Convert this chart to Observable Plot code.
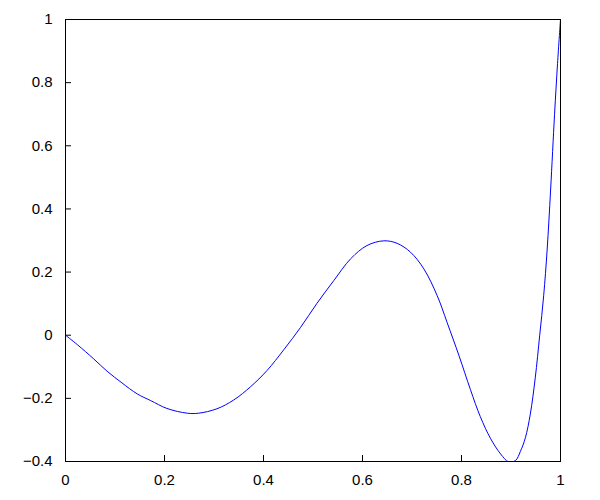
<!DOCTYPE html>
<html>
<head>
<meta charset="utf-8">
<script src="https://cdn.jsdelivr.net/npm/d3@7"></script>
<script src="https://cdn.jsdelivr.net/npm/@observablehq/plot@0.6"></script>
<style>
  html, body { margin: 0; padding: 0; background: #fff; }
  #chart svg { display: block; }
</style>
</head>
<body>
<div id="chart"></div>
<script>
const xs = [0, 0.024, 0.057, 0.084, 0.114, 0.145, 0.172, 0.205, 0.246, 0.269, 0.306, 0.340, 0.374, 0.407, 0.441, 0.475, 0.508, 0.542, 0.576, 0.609, 0.643, 0.670, 0.697, 0.724, 0.751, 0.771, 0.795, 0.818, 0.838, 0.859, 0.879, 0.895, 0.909, 0.919, 0.929, 0.939, 0.949, 0.958, 0.966, 0.973, 0.980, 0.988, 0.994, 1.0];
const ys = [0, -0.030, -0.075, -0.114, -0.151, -0.186, -0.207, -0.232, -0.247, -0.247, -0.233, -0.205, -0.163, -0.112, -0.046, 0.025, 0.101, 0.173, 0.242, 0.284, 0.299, 0.291, 0.263, 0.210, 0.125, 0.040, -0.065, -0.172, -0.258, -0.328, -0.376, -0.401, -0.397, -0.368, -0.325, -0.250, -0.135, 0.0, 0.125, 0.27, 0.46, 0.70, 0.86, 1.0];
const xTicks = [0, 0.2, 0.4, 0.6, 0.8, 1];
const yTicks = [-0.4, -0.2, 0, 0.2, 0.4, 0.6, 0.8, 1];

const data = xs.map((x, i) => ({x, y: ys[i]}));
const fmt = d => d3.format("")(+d.toFixed(1));

const chart = Plot.plot({
  width: 600,
  height: 500,
  marginLeft: 65,
  marginRight: 40,
  marginTop: 19,
  marginBottom: 39,
  style: {fontFamily: "'Liberation Sans', Arial, sans-serif", fontSize: "15px", color: "#000", background: "#fff"},
  x: {domain: [0, 1]},
  y: {domain: [-0.4, 1]},
  marks: [
    Plot.axisX({ticks: xTicks, tickSize: 0, tickPadding: 13, tickFormat: fmt, label: null, fontSize: 15}),
    Plot.axisX({ticks: xTicks, tickSize: 6, dy: -6, tickFormat: () => "", label: null, stroke: "#000"}),
    Plot.axisY({ticks: yTicks, tickSize: 0, tickPadding: 13, tickFormat: fmt, label: null, fontSize: 15}),
    Plot.axisY({ticks: yTicks, tickSize: 6, dx: 6, tickFormat: () => "", label: null, stroke: "#000"}),
    Plot.line(data, {x: "x", y: "y", stroke: "#0000ff", strokeWidth: 1, curve: "catmull-rom", clip: true}),
    Plot.frame({stroke: "#000", strokeWidth: 1})
  ]
});
document.getElementById("chart").appendChild(chart);
</script>
</body>
</html>
